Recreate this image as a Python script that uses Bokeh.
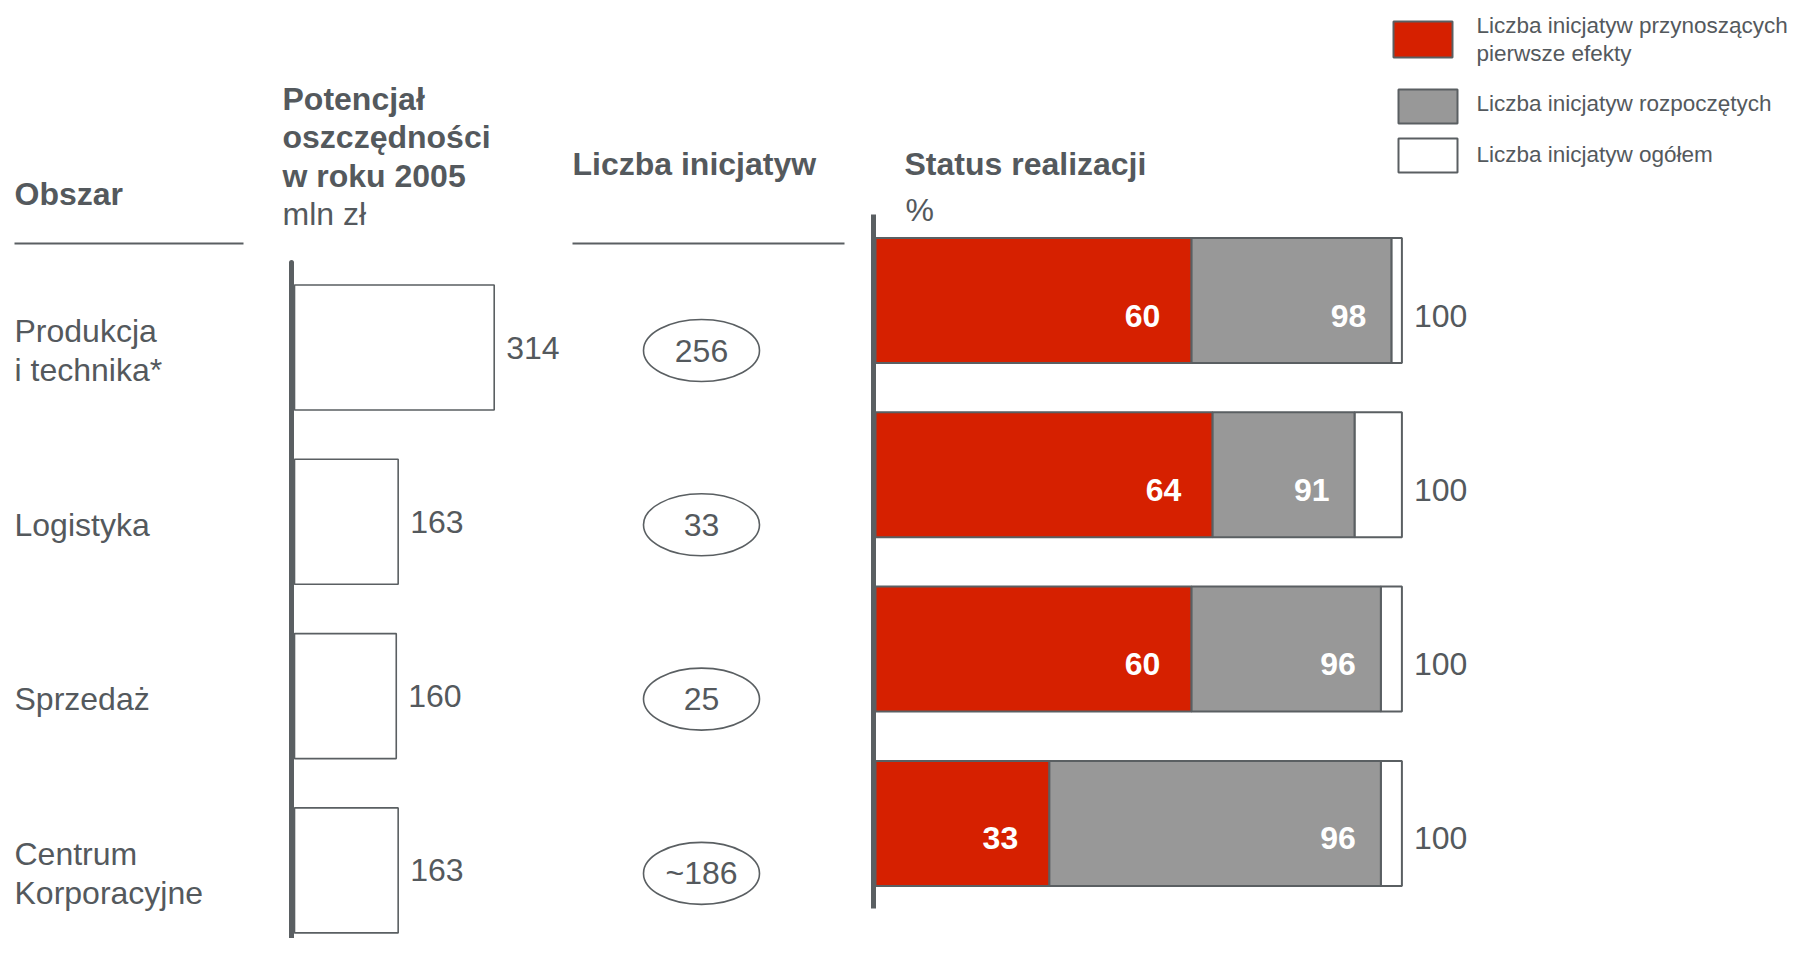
from bokeh.plotting import figure
from bokeh.models import Range1d, ColumnDataSource
from bokeh.core.properties import value
from bokeh.embed import file_html
from bokeh.resources import INLINE

# ---------------- data ----------------
categories = ["Produkcja\ni technika*", "Logistyka", "Sprzedaż", "Centrum\nKorporacyjne"]
potential = [314, 163, 160, 163]
initiatives = ["256", "33", "25", "~186"]
first_effects = [60, 64, 60, 33]
started = [98, 91, 96, 96]
total = [100, 100, 100, 100]
legend_labels = ["Liczba inicjatyw przynoszących\npierwsze efekty",
                 "Liczba inicjatyw rozpoczętych",
                 "Liczba inicjatyw ogółem"]
header_pot = ["Potencjał", "oszczędności", "w roku 2005"]

# ---------------- style / layout ----------------
FONT = value("Liberation Sans")
TXT = "#54595d"
LINE = "#5a5f62"
RED = "#d62000"
GRAY = "#989898"
FS = "32px"

W, H = 1797, 938
p = figure(width=W, height=H, x_range=Range1d(0, W), y_range=Range1d(H, 0),
           x_axis_location=None, y_axis_location=None, min_border=0,
           toolbar_location=None, output_backend="svg")
p.grid.visible = False
p.outline_line_color = None
p.background_fill_color = "white"

# scales for the two bar panels (0 at the panel axis)
POT0, POT_PX = 294.0, 0.636     # px per mln zł
PCT0, PCT_PX = 875.0, 5.264     # px per %
p.extra_x_ranges = {
    "pot": Range1d((0 - POT0) / POT_PX, (W - POT0) / POT_PX),
    "pct": Range1d((0 - PCT0) / PCT_PX, (W - PCT0) / PCT_PX),
}

n = len(categories)
row = [347 + 174.3 * i for i in range(n)]
row_lbl = [y + 3 for y in row]
row_st = [y - 47 for y in row]
row_st_lbl = [y + 15 for y in row_st]
BAR_H = 125

# ---------------- headers ----------------
def txt(x, y, t, bold=False, size=FS, color=TXT, align="left", baseline="middle", **kw):
    p.text(x=[x], y=[y], text=[t], text_font=FONT, text_font_size=size,
           text_font_style="bold" if bold else "normal", text_color=color,
           text_align=align, text_baseline=baseline, **kw)

txt(14, 193, "Obszar", bold=True)
for i, t in enumerate(header_pot):
    txt(282, 98 + 38.5 * i, t, bold=True)
txt(282, 213, "mln zł")
txt(572, 163, "Liczba inicjatyw", bold=True)
txt(904, 163, "Status realizacji", bold=True)
txt(905, 209, "%")

p.segment(x0=[14, 572], y0=[243, 243], x1=[243, 844], y1=[243, 243],
          line_color=LINE, line_width=2)

# ---------------- category labels ----------------
p.text(x=[14] * n, y=row_lbl, text=categories, text_font=FONT, text_font_size=FS,
       text_color=TXT, text_align="left", text_baseline="middle", text_line_height=1.1)

# ---------------- potential bars ----------------
p.hbar(y=row, left=0, right=potential, height=BAR_H, x_range_name="pot",
       fill_color="white", line_color=LINE, line_width=1.6)
p.text(x=potential, y=row, text=[str(v) for v in potential], x_range_name="pot",
       x_offset=12, text_font=FONT, text_font_size=FS, text_color=TXT,
       text_align="left", text_baseline="middle")
p.segment(x0=[291], y0=[262], x1=[291], y1=[960], line_color=LINE, line_width=5,
          line_cap="round")

# ---------------- number of initiatives ----------------
p.ellipse(x=[701] * n, y=row_lbl, width=116, height=62, fill_color="white",
          line_color=LINE, line_width=1.6)
p.text(x=[701] * n, y=row_lbl, text=initiatives, text_font=FONT, text_font_size=FS,
       text_color=TXT, text_align="center", text_baseline="middle")

# ---------------- status bars ----------------
src = ColumnDataSource(dict(y=row_st, yl=row_st_lbl, red=first_effects, gray=started,
                            tot=total, zero=[0] * n,
                            red_t=[str(v) for v in first_effects],
                            gray_t=[str(v) for v in started],
                            tot_t=[str(v) for v in total]))
p.hbar(y="y", left="gray", right="tot", height=BAR_H, source=src, x_range_name="pct",
       fill_color="white", line_color=LINE, line_width=2)
p.hbar(y="y", left="red", right="gray", height=BAR_H, source=src, x_range_name="pct",
       fill_color=GRAY, line_color=LINE, line_width=2)
p.hbar(y="y", left="zero", right="red", height=BAR_H, source=src, x_range_name="pct",
       fill_color=RED, line_color=LINE, line_width=2)
p.text(x="red", y="yl", text="red_t", source=src, x_range_name="pct", x_offset=-31,
       text_font=FONT, text_font_size=FS, text_font_style="bold", text_color="white",
       text_align="right", text_baseline="middle")
p.text(x="gray", y="yl", text="gray_t", source=src, x_range_name="pct", x_offset=-25,
       text_font=FONT, text_font_size=FS, text_font_style="bold", text_color="white",
       text_align="right", text_baseline="middle")
p.text(x="tot", y="yl", text="tot_t", source=src, x_range_name="pct", x_offset=12,
       text_font=FONT, text_font_size=FS, text_color=TXT,
       text_align="left", text_baseline="middle")
p.segment(x0=[873], y0=[214], x1=[873], y1=[908], line_color=LINE, line_width=5)

# ---------------- legend ----------------
leg_left = [1393, 1398, 1398]
leg_top = [21, 89, 138]
leg_bot = [57, 123, 172]
leg_fill = [RED, GRAY, "white"]
p.quad(left=leg_left, right=[l + 59 for l in leg_left], top=leg_top, bottom=leg_bot,
       fill_color=leg_fill, line_color=LINE, line_width=2)
p.text(x=[1476] * 3, y=[38.5, 103, 154], text=legend_labels, text_font=FONT,
       text_font_size="22.5px", text_color=TXT, text_align="left",
       text_baseline="middle", text_line_height=1.12)

open("out.html", "w").write(file_html(p, INLINE))
